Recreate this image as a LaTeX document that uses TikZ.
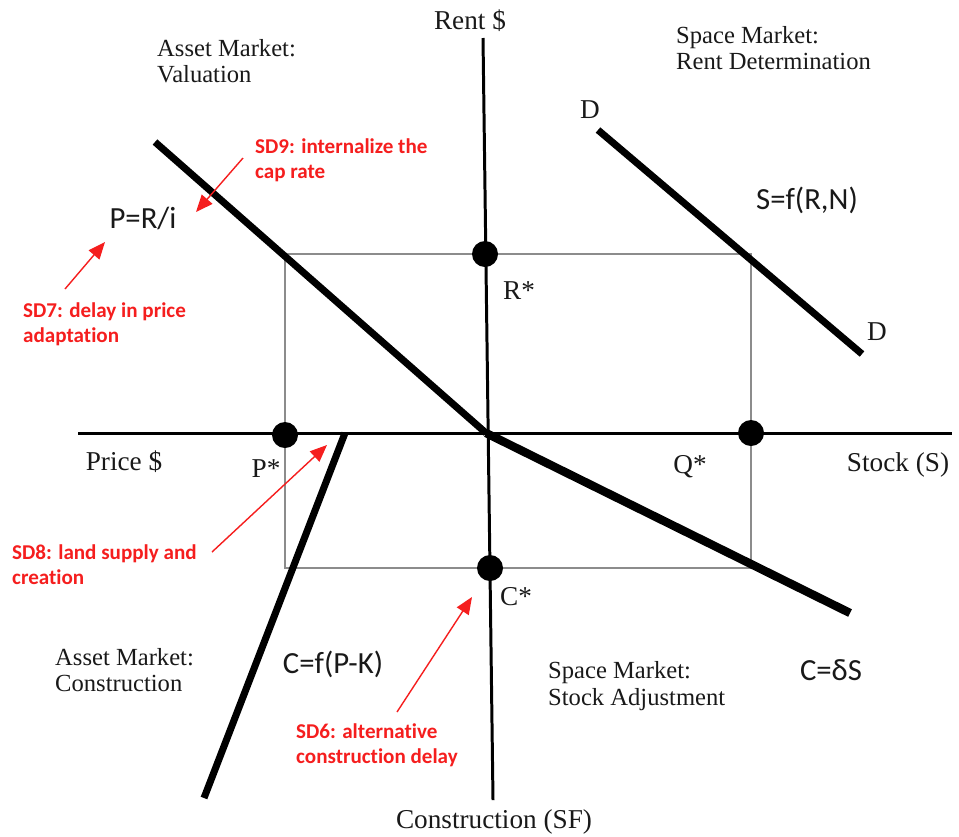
\documentclass[tikz,border=0pt]{standalone}
\usepackage{fontspec}
\setmainfont{Liberation Serif}
\newfontfamily\calfont[Ligatures=NoCommon]{Carlito}
\usetikzlibrary{arrows.meta}
\definecolor{sdred}{RGB}{245,30,30}
\definecolor{txt}{RGB}{25,25,25}
\begin{document}
\begin{tikzpicture}[x=0.02cm,y=-0.02cm,
  axisline/.style={line width=1.7pt, black},
  curve/.style={line width=4pt, black},
  heavycurve/.style={line width=4.8pt, black},
  guide/.style={draw=black!45, line width=0.6pt},
  dot/.style={circle, fill=black, minimum size=0.52cm, inner sep=0pt},
  lab/.style={font=\fontsize{15.5}{17}\selectfont, text=txt},
  quad/.style={font=\fontsize{14}{15.2}\selectfont, text=txt, align=left, anchor=west},
  form/.style={font=\calfont\fontsize{17.5}{20}\selectfont, text=txt},
  note/.style={font=\calfont\bfseries\fontsize{12}{14.2}\selectfont, text=sdred, align=left, anchor=west},
  redarrow/.style={draw=sdred, line width=0.8pt, -{Triangle[length=0.34cm,width=0.28cm]}}]
\useasboundingbox (0,0) rectangle (959,836);

% axes
\coordinate (vtop) at (483,38);
\coordinate (vbot) at (493,800);
\coordinate (hleft) at (78,433);
\coordinate (hright) at (952,433);
\coordinate (O) at (486,433);
\draw[axisline] (vtop) -- (vbot);
\draw[axisline] (hleft) -- (hright);

% equilibrium rectangle
\coordinate (cRP) at (285,254);
\coordinate (cRQ) at (751,254);
\coordinate (cCQ) at (751,568);
\coordinate (cCP) at (285,568);
\draw[guide] (cRP) -- (cRQ) -- (cCQ) -- (cCP) -- cycle;

% curves
\coordinate (valA) at (155,142);
\coordinate (conA) at (345,433);
\coordinate (conB) at (204,798);
\coordinate (stkB) at (850,613);
\coordinate (dA) at (598,130);
\coordinate (dB) at (862,354);
\draw[curve] (valA) -- (O);
\draw[curve] (conA) -- (conB);
\draw[heavycurve] (O) -- (stkB);
\draw[curve] (dA) -- (dB);

% equilibrium dots
\node[dot] (Rs) at (485,254) {};
\node[dot] (Ps) at (285,435) {};
\node[dot] (Qs) at (751,433) {};
\node[dot] (Cs) at (490,568) {};

% axis labels
\node[lab] (rent) at (470,21) {Rent \$};
\node[lab] (price) at (124,462) {Price \$};
\node[lab] (stock) at (898,465) {Stock (S)};
\node[lab] (constr) at (494,822) {Construction (SF)};
\node[lab] (Rl) at (519,291) {R*};
\node[lab] (Pl) at (266,469) {P*};
\node[lab] (Ql) at (690,467) {Q*};
\node[lab] (Cl) at (516,597) {C*};
\node[lab] (D1) at (590,110) {D};
\node[lab] (D2) at (877,332) {D};

% quadrant labels
\node[quad] (q1) at (151,61) {Asset Market:\\Valuation};
\node[quad] (q2) at (670,48) {Space Market:\\Rent Determination};
\node[quad] (q3) at (49,670) {Asset Market:\\Construction};
\node[quad] (q4) at (542,686) {Space Market:\\Stock Adjustment};

% formulas
\node[form] (f1) at (143,218) {P=R/i};
\node[form] (f2) at (807,200) {S=f(R,N)};
\node[form] (f3) at (333,664) {C=f(P-K)};
\node[form] (f4) at (831,670) {C=δS};

% red notes
\node[note] (sd9) at (249,160) {SD9: internalize the\\cap rate};
\node[note] (sd7) at (17,324) {SD7: delay in price\\adaptation};
\node[note] (sd8) at (6,565) {SD8: land supply and\\creation};
\node[note] (sd6) at (290,745) {SD6: alternative\\construction delay};

\coordinate (a9s) at (243,158);
\coordinate (a9e) at (196,212);
\coordinate (a7s) at (65,289);
\coordinate (a7e) at (105,242);
\coordinate (a8s) at (212,552);
\coordinate (a8e) at (327,445);
\coordinate (a6s) at (397,712);
\coordinate (a6e) at (472,597);
\draw[redarrow] (a9s) -- (a9e);
\draw[redarrow] (a7s) -- (a7e);
\draw[redarrow] (a8s) -- (a8e);
\draw[redarrow] (a6s) -- (a6e);
\end{tikzpicture}
\end{document}
